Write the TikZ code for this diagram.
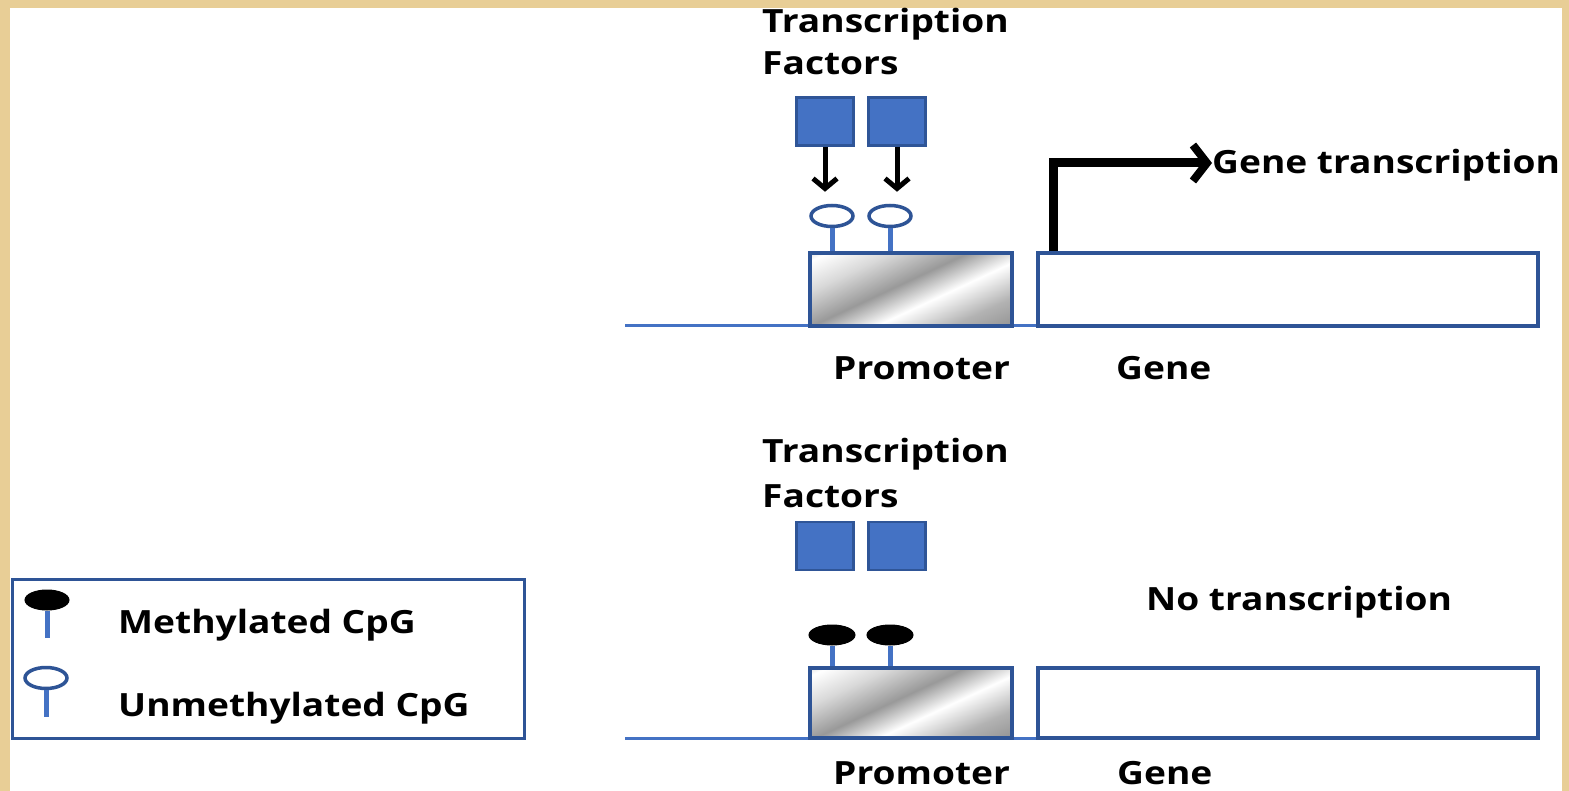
\documentclass[tikz,border=0pt]{standalone}
\usepackage{fontspec}
\setmainfont{Open Sans}[FakeStretch=1.16]
\usetikzlibrary{shapes.geometric,arrows.meta}
\definecolor{tan}{RGB}{232,206,150}
\definecolor{tfblue}{RGB}{68,114,196}
\definecolor{tfedge}{RGB}{47,85,151}
\definecolor{boxedge}{RGB}{46,84,150}
\definecolor{lineblue}{RGB}{68,114,196}
\pgfdeclarehorizontalshading{metal}{100bp}{color(0bp)=(black!60); color(28bp)=(black!30); color(42bp)=(white); color(54bp)=(black!40); color(68bp)=(black!15); color(80bp)=(white); color(100bp)=(black!65)}
\tikzset{
  txt/.style={anchor=base west, inner sep=0pt, font=\fontsize{32}{38}\selectfont\bfseries, text=black},
  tfbox/.style={draw=tfedge, fill=tfblue, line width=2.5pt, minimum width=57pt, minimum height=48pt, inner sep=0pt},
  promobox/.style={draw=boxedge, line width=3.5pt, shading=metal, shading angle=115, minimum width=202pt, inner sep=0pt},
  genebox/.style={draw=boxedge, line width=3.5pt, fill=white, minimum width=500pt, inner sep=0pt},
  cpgopen/.style={ellipse, draw=boxedge, fill=white, line width=3.5pt, minimum width=42pt, minimum height=21pt, inner sep=0pt},
  cpgmeth/.style={ellipse, draw=black, fill=black, line width=1pt, minimum width=46pt, minimum height=20pt, inner sep=0pt},
  stem/.style={draw=lineblue, line width=5pt},
  dna/.style={draw=lineblue, line width=3pt},
  tfarrow/.style={draw=black, line width=5pt, -{Straight Barb[length=10pt,width=24pt,line width=5pt]}},
  bigarrow/.style={draw=black, line width=9pt, -{Straight Barb[length=14pt,width=36pt,line width=8pt]}}
}
\begin{document}
\begin{tikzpicture}[x=1pt,y=-1pt]
\useasboundingbox (0,0) rectangle (1569,791);
\fill[tan] (0,0) rectangle (1569,791);
\fill[white] (10,8) rectangle (1562,791);

% ---------- top panel ----------
\node[txt] (tt1) at (762,33) {Transcription};
\node[txt] (tt2) at (762,75) {Factors};
\node[tfbox] (tfa) at (825,121.5) {};
\node[tfbox] (tfb) at (897,121.5) {};
\coordinate (dna1) at (625,326);
\node[genebox, minimum height=73pt] (g1) at (1288,289.5) {};
\draw[dna] (dna1) -- (dna1 -| g1.west);
\node[promobox, minimum height=73pt] (p1) at (911,289.5) {};
\node[cpgopen] (ua) at (832,216) {};
\node[cpgopen] (ub) at (890,216) {};
\draw[stem] (ua.south) -- (ua.south |- p1.north);
\draw[stem] (ub.south) -- (ub.south |- p1.north);
\draw[tfarrow, shorten >=12pt] (tfa.south) -- (tfa.south |- ua.north);
\draw[tfarrow, shorten >=12pt] (tfb.south) -- (tfb.south |- ub.north);
\node[txt] (gt) at (1212,174) {Gene transcription};
\coordinate (bend) at (1053,163);
\draw[bigarrow] (g1.north west -| bend) -- (bend) -- (gt.west |- bend);
\node[txt] (pl1) at (833,380) {Promoter};
\node[txt] (gl1) at (1116,380) {Gene};

% ---------- bottom panel ----------
\node[txt] (bt1) at (762,462) {Transcription};
\node[txt] (bt2) at (762,507) {Factors};
\node[tfbox] (tfc) at (825,546) {};
\node[tfbox] (tfd) at (897,546) {};
\coordinate (dna2) at (625,738);
\node[genebox, minimum height=70pt] (g2) at (1288,703) {};
\draw[dna] (dna2) -- (dna2 -| g2.west);
\node[promobox, minimum height=70pt] (p2) at (911,703) {};
\node[cpgmeth] (ma) at (832,635) {};
\node[cpgmeth] (mb) at (890,635) {};
\draw[stem] (ma.south) -- (ma.south |- p2.north);
\draw[stem] (mb.south) -- (mb.south |- p2.north);
\node[txt] (nt) at (1146,610) {No transcription};
\node[txt] (pl2) at (833,784) {Promoter};
\node[txt] (gl2) at (1117,784) {Gene};

% ---------- legend ----------
\node[draw=boxedge, line width=3pt, minimum width=512pt, minimum height=159pt, inner sep=0pt] (leg) at (268,658.5) {};
\node[cpgmeth, minimum width=44pt] (lm) at (47,600) {};
\draw[stem] (lm.south) -- ++(0,27);
\node[txt] (lmt) at (118,633) {Methylated CpG};
\node[cpgopen] (lu) at (46,678) {};
\draw[stem] (lu.south) -- ++(0,27);
\node[txt] (lut) at (118,716) {Unmethylated CpG};
\end{tikzpicture}
\end{document}
